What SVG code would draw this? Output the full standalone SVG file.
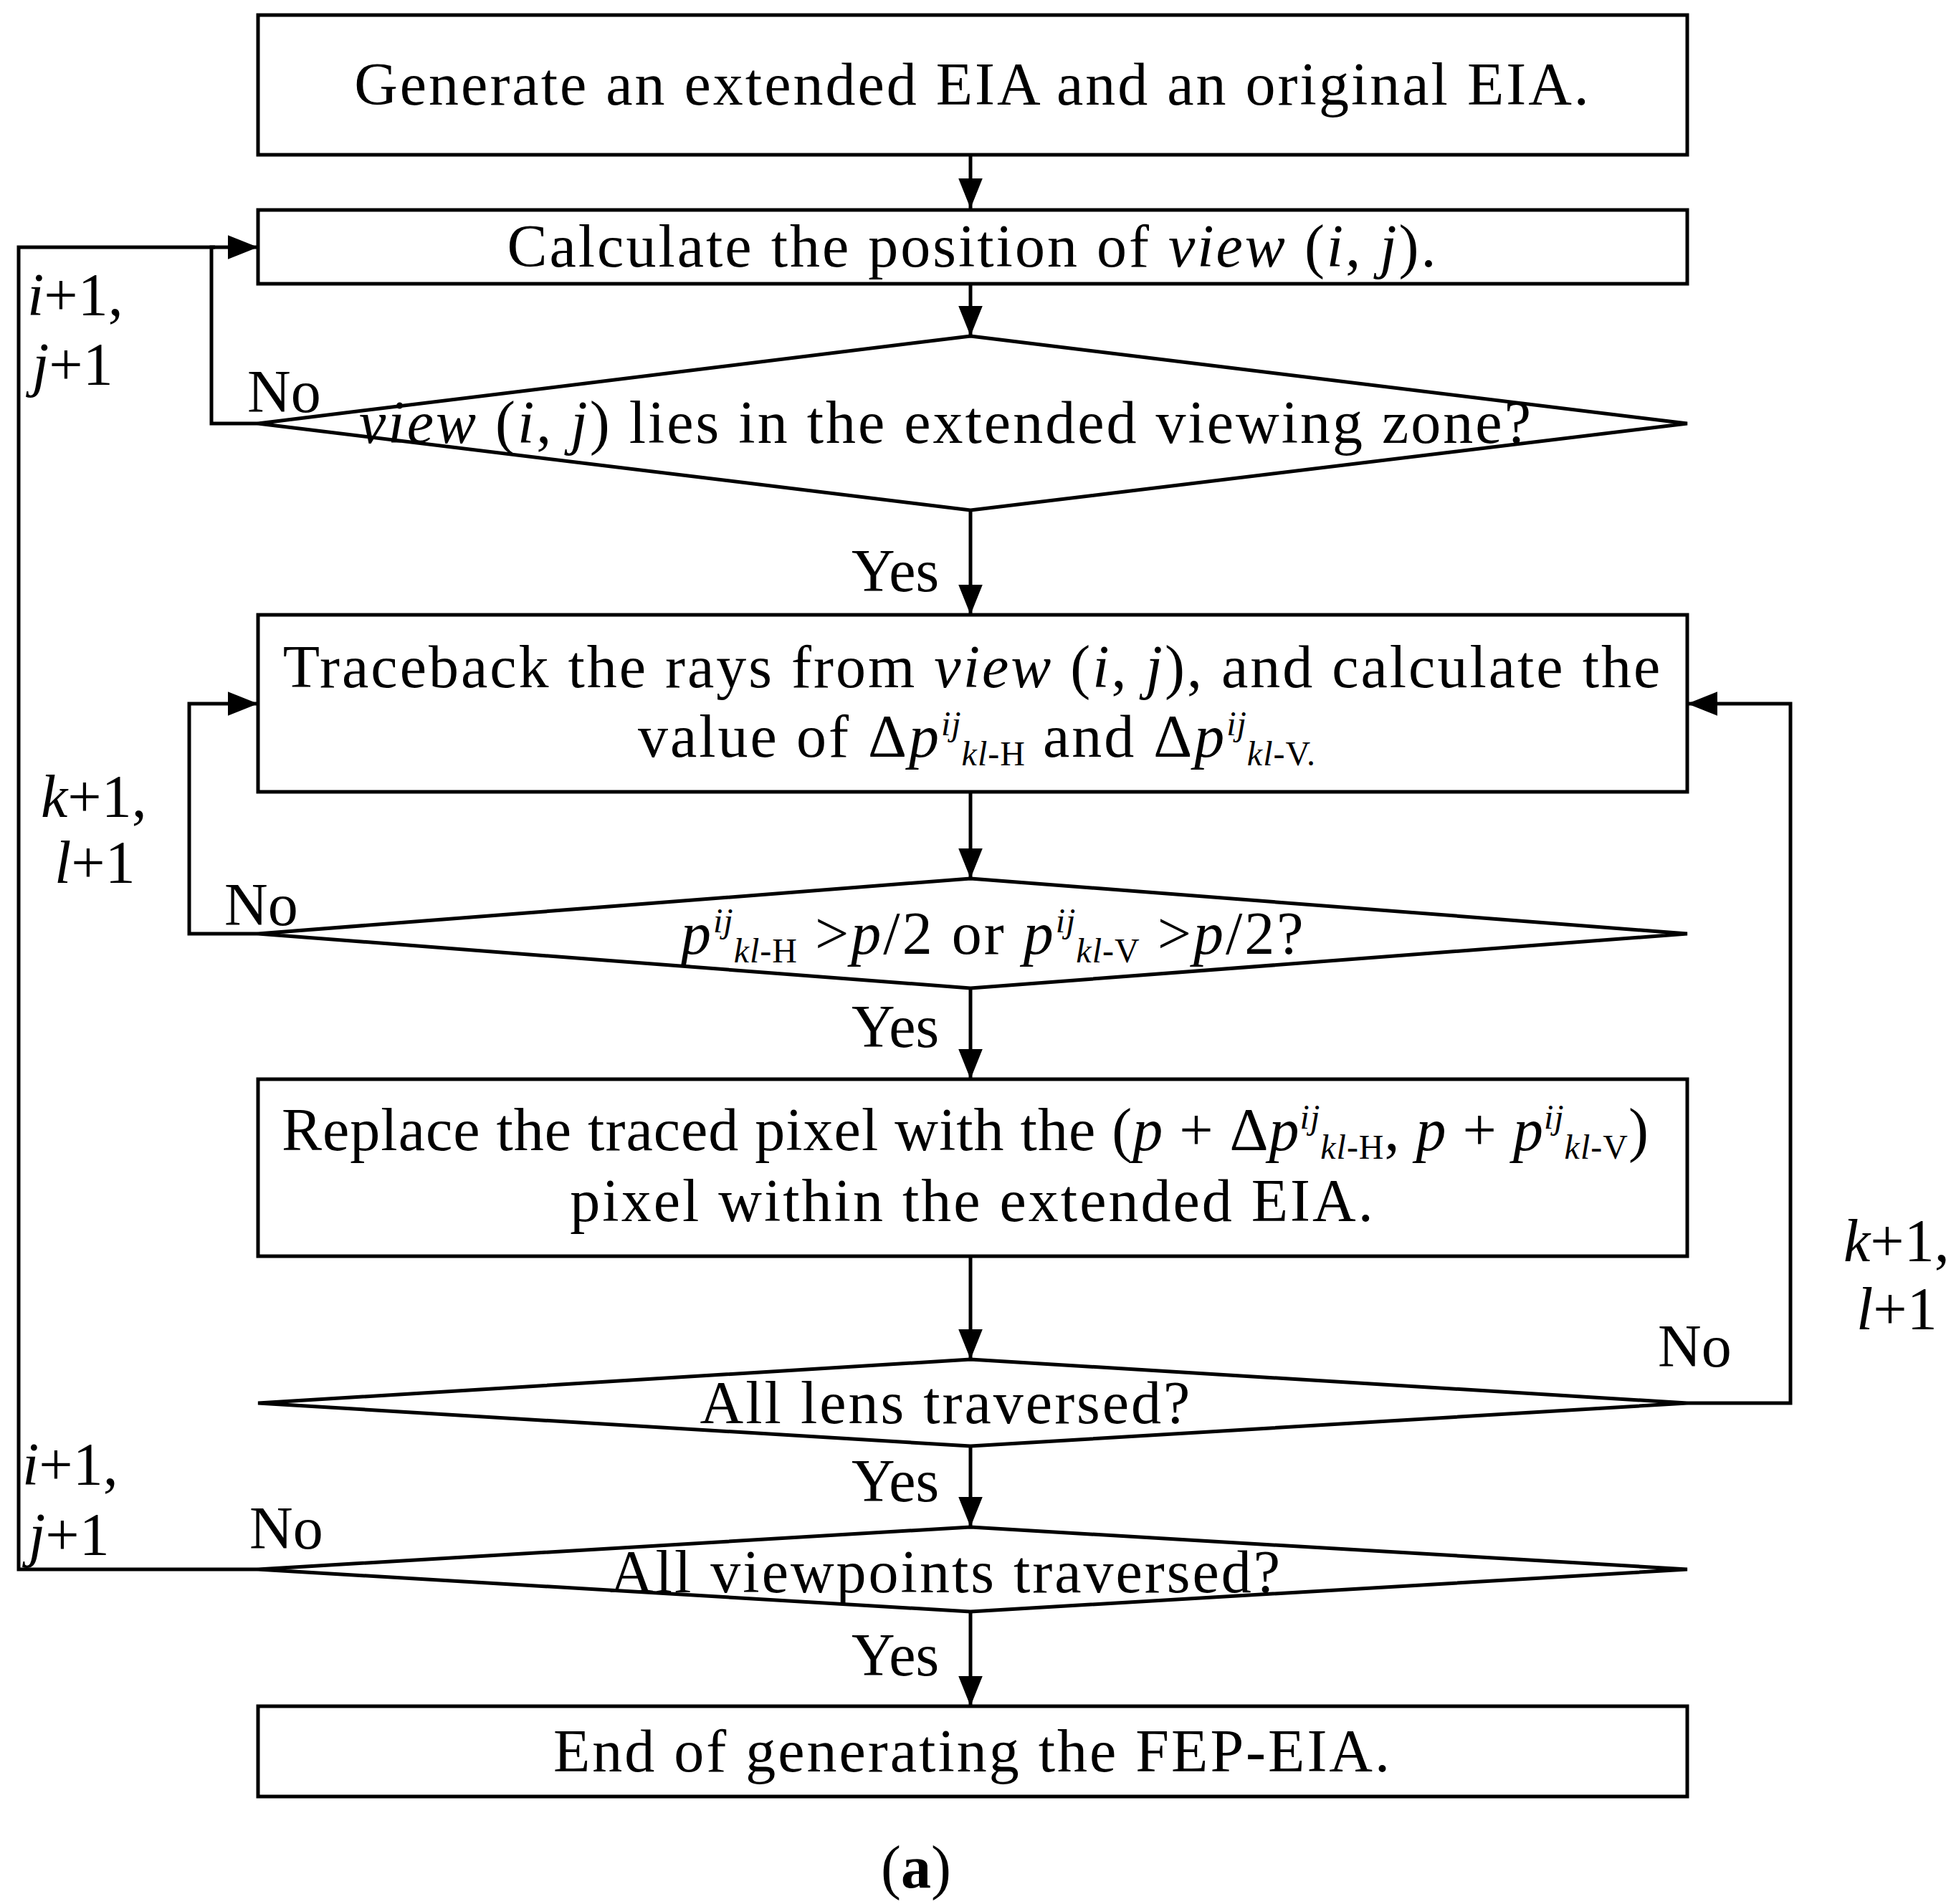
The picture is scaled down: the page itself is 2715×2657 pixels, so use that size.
<svg xmlns="http://www.w3.org/2000/svg" width="2715" height="2657" viewBox="0 0 2715 2657">
<style>
text{font-family:"Liberation Serif","Times New Roman",serif;font-size:84px;letter-spacing:3px;fill:#000}
.c{text-anchor:middle}
.s{font-size:48px;letter-spacing:1px}
.i{font-style:italic}
.t{letter-spacing:0}
.n{fill:#fff;stroke:#000;stroke-width:5}
.l{fill:none;stroke:#000;stroke-width:5}
</style>
<defs><marker id="b" viewBox="0 0 10 10" refX="10" refY="5" markerWidth="42" markerHeight="42" markerUnits="userSpaceOnUse" orient="auto"><path d="M0,1L10,5L0,9z" fill="#000"/></marker></defs>
<g id="connectors" class="l" marker-end="url(#b)">
<path d="M1354,216V291"/><path d="M1354,396V469"/><path d="M1354,712V858"/><path d="M1354,1105V1226"/><path d="M1354,1379V1506"/><path d="M1354,1753V1897"/><path d="M1354,2018V2131"/><path d="M1354,2249V2381"/>
<path d="M360,591H295V345H360"/><path d="M360,2190H26V345H300" marker-end="none"/>
<path d="M360,1303H264V982H360"/><path d="M2354,1958H2498V982H2354"/>
</g>
<g id="n1"><rect class="n" x="360" y="21" width="1994" height="195"/><text class="c" x="1357" y="146">Generate an extended EIA and an original EIA.</text></g>
<g id="n2"><rect class="n" x="360" y="293" width="1994" height="103"/><text class="c" x="1357" y="372">Calculate the position of <tspan class="i">view</tspan> (<tspan class="i">i</tspan>, <tspan class="i">j</tspan>).</text></g>
<g id="n3"><path class="n" d="M1354,469L2354,591L1354,712L360,591Z"/><text class="c" x="1320" y="618"><tspan class="i">view</tspan> (<tspan class="i">i</tspan>, <tspan class="i">j</tspan>) lies in the extended viewing zone?</text>
<text class="t" x="345" y="575">No</text><text class="t" x="1188" y="825">Yes</text><text class="t" x="38" y="440"><tspan class="i">i</tspan>+1,</text><text class="t" x="45" y="537"><tspan class="i">j</tspan>+1</text></g>
<g id="n4"><rect class="n" x="360" y="858" width="1994" height="247"/>
<text class="c" x="1357" y="959">Traceback the rays from <tspan class="i">view</tspan> (<tspan class="i">i</tspan>, <tspan class="i">j</tspan>),  and calculate the</text>
<text x="890" y="1056">value of Δ<tspan class="i">p</tspan><tspan class="s i" dy="-30">ij</tspan><tspan class="s i" dy="42">kl</tspan><tspan class="s">-H</tspan><tspan dy="-12"> and Δ</tspan><tspan class="i">p</tspan><tspan class="s i" dy="-30">ij</tspan><tspan class="s i" dy="42">kl</tspan><tspan class="s">-V.</tspan></text></g>
<g id="n5"><path class="n" d="M1354,1226L2354,1303L1354,1379L360,1303Z"/>
<text x="950" y="1331"><tspan class="i">p</tspan><tspan class="s i" dy="-30">ij</tspan><tspan class="s i" dy="42">kl</tspan><tspan class="s">-H</tspan><tspan dy="-12"> &gt;</tspan><tspan class="i">p</tspan>/2 or <tspan class="i">p</tspan><tspan class="s i" dy="-30">ij</tspan><tspan class="s i" dy="42">kl</tspan><tspan class="s">-V</tspan><tspan dy="-12"> &gt;</tspan><tspan class="i">p</tspan>/2?</text>
<text class="t" x="313" y="1291">No</text><text class="t" x="1188" y="1461">Yes</text><text class="t" x="57" y="1140"><tspan class="i">k</tspan>+1,</text><text class="t" x="76" y="1232"><tspan class="i">l</tspan>+1</text></g>
<g id="n6"><rect class="n" x="360" y="1506" width="1994" height="247"/>
<text x="393" y="1605" style="letter-spacing:1px">Replace the traced pixel with the (<tspan class="i">p</tspan> + Δ<tspan class="i">p</tspan><tspan class="s i" dy="-30">ij</tspan><tspan class="s i" dy="42">kl</tspan><tspan class="s">-H</tspan><tspan dy="-12">, </tspan><tspan class="i">p</tspan> + <tspan class="i">p</tspan><tspan class="s i" dy="-30">ij</tspan><tspan class="s i" dy="42">kl</tspan><tspan class="s">-V</tspan><tspan dy="-12">)</tspan></text>
<text class="c" x="1357" y="1704">pixel within the extended EIA.</text></g>
<g id="n7"><path class="n" d="M1354,1897L2354,1958L1354,2018L360,1958Z"/><text class="c" x="1320" y="1986">All lens traversed?</text>
<text class="t" x="2313" y="1907">No</text><text class="t" x="1188" y="2095">Yes</text><text class="t" x="2572" y="1760"><tspan class="i">k</tspan>+1,</text><text class="t" x="2590" y="1855"><tspan class="i">l</tspan>+1</text></g>
<g id="n8"><path class="n" d="M1354,2131L2354,2190L1354,2249L360,2190Z"/><text class="c" x="1320" y="2222">All viewpoints traversed?</text>
<text class="t" x="348" y="2161">No</text><text class="t" x="1188" y="2338">Yes</text><text class="t" x="31" y="2072"><tspan class="i">i</tspan>+1,</text><text class="t" x="40" y="2170"><tspan class="i">j</tspan>+1</text></g>
<g id="n9"><rect class="n" x="360" y="2381" width="1994" height="126"/><text class="c" x="1357" y="2472">End of generating the FEP-EIA.</text></g>
<text class="c t" x="1278" y="2634">(<tspan font-weight="bold">a</tspan>)</text>
</svg>
